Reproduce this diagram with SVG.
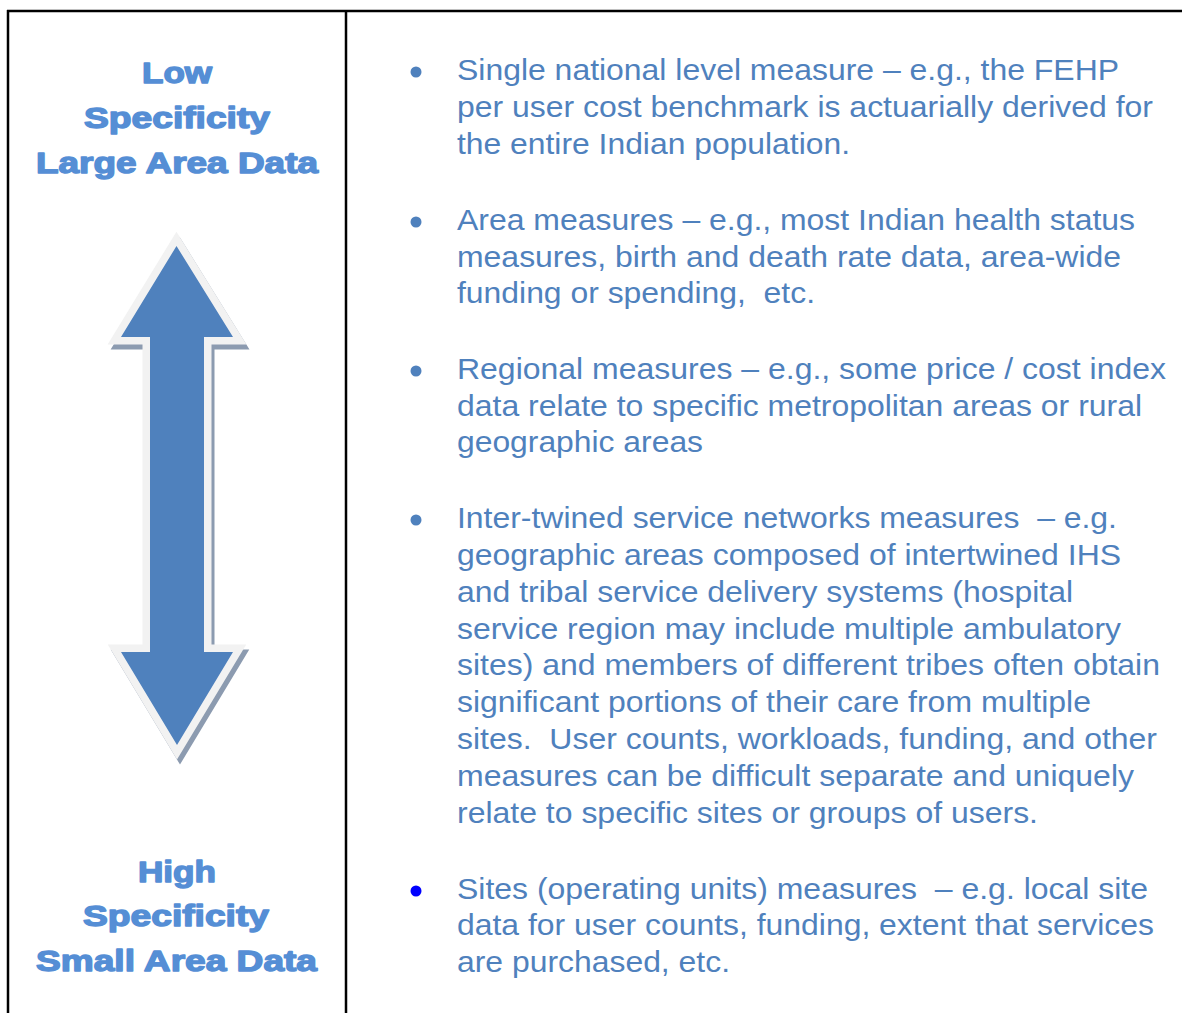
<svg xmlns="http://www.w3.org/2000/svg" width="1182" height="1013" viewBox="0 0 1182 1013">
<style>
.frame{stroke:#000;stroke-width:2.5;fill:none}
.head{font-family:"Liberation Sans",Arial,sans-serif;font-weight:bold;font-size:29.5px;fill:#558ed5;stroke:#558ed5;stroke-width:1.4;stroke-linejoin:round}
.body{font-family:"Liberation Sans",Arial,sans-serif;font-size:30px;fill:#4f81bd;white-space:pre}
.dot{fill:#4f81bd}
</style>
<defs>
<polygon id="arrowShape" points="176.5,246 233,337 204,337 204,652 233,652 177,745 121,652 150,652 150,337 121,337"/>
</defs>
<rect width="1182" height="1013" fill="#fff"/>
<g id="table-frame">
<line class="frame" x1="7" y1="11" x2="1182" y2="11"/>
<line class="frame" x1="8" y1="10" x2="8" y2="1013"/>
<line class="frame" x1="346" y1="10" x2="346" y2="1013"/>
</g>
<g id="label-low">
<text class="head" x="142" y="83" textLength="70" lengthAdjust="spacingAndGlyphs">Low</text>
<text class="head" x="84" y="128" textLength="186" lengthAdjust="spacingAndGlyphs">Specificity</text>
<text class="head" x="36" y="173" textLength="282" lengthAdjust="spacingAndGlyphs">Large Area Data</text>
</g>
<g id="double-arrow">
<use href="#arrowShape" transform="translate(3,5)" fill="#8c9bb0" stroke="#8c9bb0" stroke-width="15" stroke-linejoin="miter" stroke-miterlimit="10"/>
<use href="#arrowShape" fill="#f2f2f2" stroke="#f2f2f2" stroke-width="15" stroke-linejoin="miter" stroke-miterlimit="10"/>
<use href="#arrowShape" fill="#4f81bd"/>
</g>
<g id="label-high">
<text class="head" x="138" y="882" textLength="78" lengthAdjust="spacingAndGlyphs">High</text>
<text class="head" x="83" y="926" textLength="186" lengthAdjust="spacingAndGlyphs">Specificity</text>
<text class="head" x="36" y="971" textLength="281" lengthAdjust="spacingAndGlyphs">Small Area Data</text>
</g>
<g id="bullet-1">
<circle class="dot" cx="416" cy="72" r="5.5"/>
<text class="body" x="457" y="80" textLength="662" lengthAdjust="spacingAndGlyphs">Single national level measure – e.g., the FEHP</text>
<text class="body" x="457" y="117" textLength="696" lengthAdjust="spacingAndGlyphs">per user cost benchmark is actuarially derived for</text>
<text class="body" x="457" y="154" textLength="393" lengthAdjust="spacingAndGlyphs">the entire Indian population.</text>
</g>
<g id="bullet-2">
<circle class="dot" cx="416" cy="222" r="5.5"/>
<text class="body" x="457" y="230" textLength="678" lengthAdjust="spacingAndGlyphs">Area measures – e.g., most Indian health status</text>
<text class="body" x="457" y="267" textLength="664" lengthAdjust="spacingAndGlyphs">measures, birth and death rate data, area-wide</text>
<text class="body" x="457" y="303" textLength="358" lengthAdjust="spacingAndGlyphs">funding or spending,  etc.</text>
</g>
<g id="bullet-3">
<circle class="dot" cx="416" cy="371" r="5.5"/>
<text class="body" x="457" y="379" textLength="709" lengthAdjust="spacingAndGlyphs">Regional measures – e.g., some price / cost index</text>
<text class="body" x="457" y="416" textLength="685" lengthAdjust="spacingAndGlyphs">data relate to specific metropolitan areas or rural</text>
<text class="body" x="457" y="452" textLength="246" lengthAdjust="spacingAndGlyphs">geographic areas</text>
</g>
<g id="bullet-4">
<circle class="dot" cx="416" cy="520" r="5.5"/>
<text class="body" x="457" y="528" textLength="660" lengthAdjust="spacingAndGlyphs">Inter-twined service networks measures  – e.g.</text>
<text class="body" x="457" y="565" textLength="664" lengthAdjust="spacingAndGlyphs">geographic areas composed of intertwined IHS</text>
<text class="body" x="457" y="602" textLength="616" lengthAdjust="spacingAndGlyphs">and tribal service delivery systems (hospital</text>
<text class="body" x="457" y="639" textLength="664" lengthAdjust="spacingAndGlyphs">service region may include multiple ambulatory</text>
<text class="body" x="457" y="675" textLength="703" lengthAdjust="spacingAndGlyphs">sites) and members of different tribes often obtain</text>
<text class="body" x="457" y="712" textLength="634" lengthAdjust="spacingAndGlyphs">significant portions of their care from multiple</text>
<text class="body" x="457" y="749" textLength="700" lengthAdjust="spacingAndGlyphs">sites.  User counts, workloads, funding, and other</text>
<text class="body" x="457" y="786" textLength="677" lengthAdjust="spacingAndGlyphs">measures can be difficult separate and uniquely</text>
<text class="body" x="457" y="823" textLength="581" lengthAdjust="spacingAndGlyphs">relate to specific sites or groups of users.</text>
</g>
<g id="bullet-5">
<circle cx="416" cy="891" r="5.5" fill="#0000ff"/>
<text class="body" x="457" y="899" textLength="691" lengthAdjust="spacingAndGlyphs">Sites (operating units) measures  – e.g. local site</text>
<text class="body" x="457" y="935" textLength="697" lengthAdjust="spacingAndGlyphs">data for user counts, funding, extent that services</text>
<text class="body" x="457" y="972" textLength="273" lengthAdjust="spacingAndGlyphs">are purchased, etc.</text>
</g>
</svg>
